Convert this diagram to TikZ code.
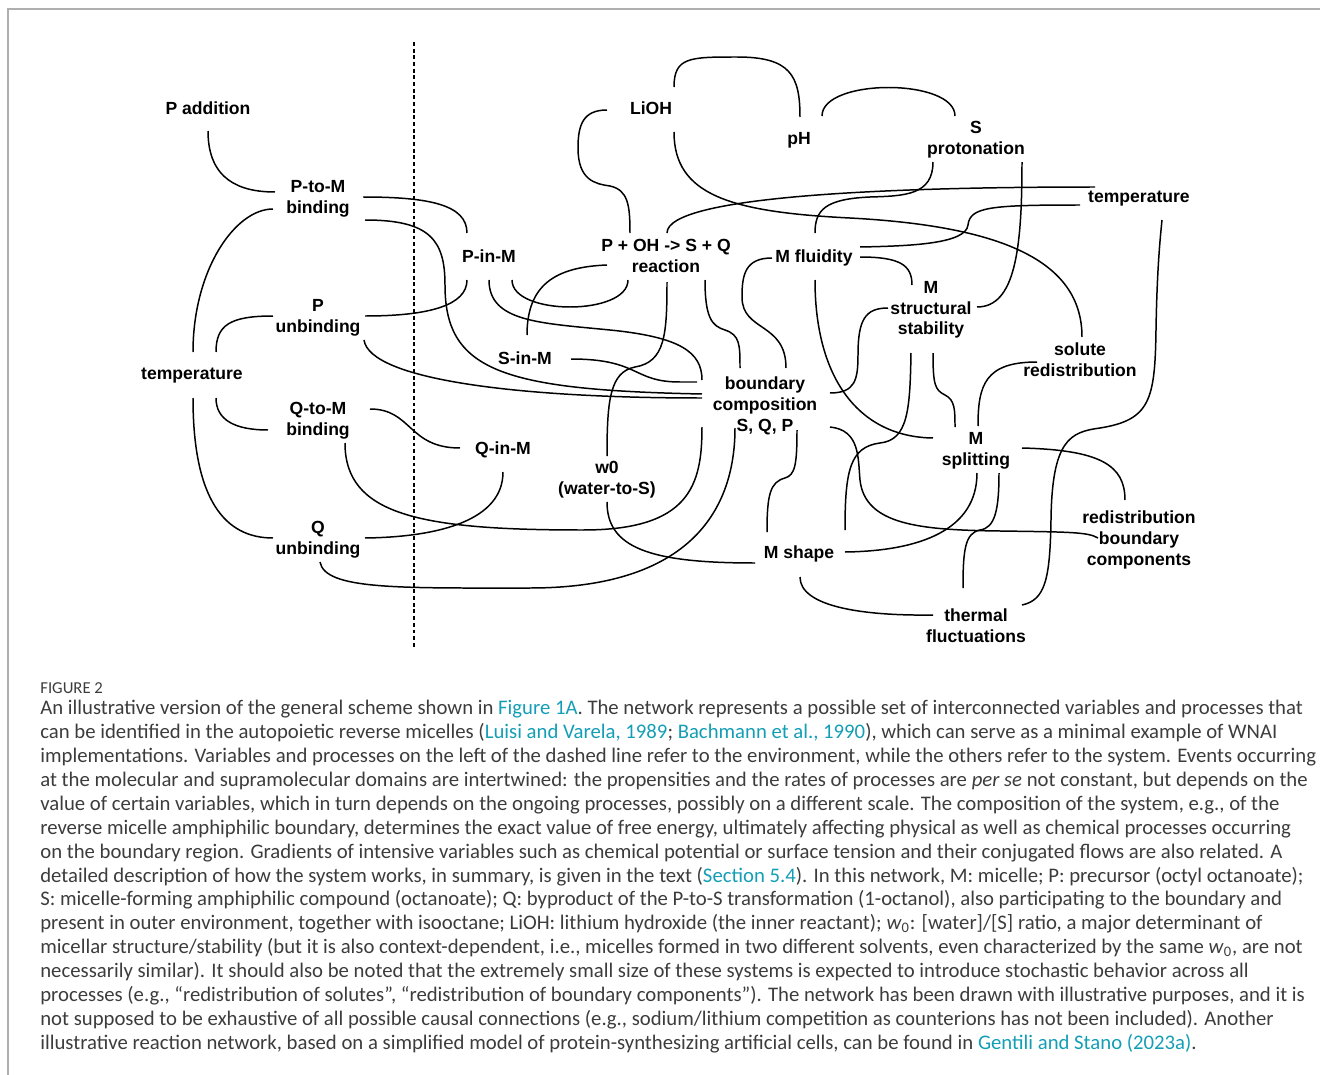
\documentclass[tikz,border=0pt]{standalone}
\usepackage{fontspec}
\setmainfont{Carlito}
\newfontfamily\lblfont{Liberation Sans}
\definecolor{capgray}{RGB}{60,60,60}
\definecolor{linkteal}{RGB}{20,158,182}
\definecolor{framegray}{RGB}{175,175,175}
\tikzset{
    lbl/.style={font=\lblfont\bfseries\fontsize{10}{11.9}\selectfont, align=center, inner sep=0pt, text depth=0pt},
    link/.style={line width=0.85pt},
}
\begin{document}
\begin{tikzpicture}[x=0.02cm, y=-0.02cm]
            \useasboundingbox (0,0) rectangle (1320,1075);
            \draw[framegray, line width=1pt] (8,1075) -- (8,9) -- (1320,9);
            \draw[line width=0.85pt, dash pattern=on 2.2pt off 1.6pt] (414,42) -- (414,648);
            \foreach \n/\x/\y/\t in {padd/208/108/{P addition}, ptom/318/197/{P-to-M\\binding},
                punb/318/316/{P\\unbinding}, tleft/192/374/{temperature}, qtom/318/419/{Q-to-M\\binding},
                qunb/318/538/{Q\\unbinding}, pinm/489/256/{P-in-M}, sinm/525/358/{S-in-M},
                qinm/503/448/{Q-in-M}, lioh/651/108/{LiOH}, ph/799/138/{pH},
                sprot/976/138/{S\\protonation}, tright/1139/197/{temperature},
                reac/666/256/{P + OH -> S + Q\\reaction}, mflu/814/256/{M fluidity},
                mstr/931/308/{M\\structural\\stability}, bcomp/765/404/{boundary\\composition\\S, Q, P},
                wzero/607/478/{w0\\(water-to-S)}, solr/1080/360/{solute\\redistribution},
                msplit/976/449/{M\\splitting}, mshape/799/552/{M shape},
                rbc/1139/538/{redistribution\\boundary\\components}, therm/976/626/{thermal\\fluctuations}}
            {
                \node[lbl] (\n) at (\x,\y) {\t};
            }
            \draw[link] ([shift={(0,23)}]padd.center) .. controls (208,180) and (240,192) .. ([shift={(-43,-5)}]ptom.center);
            \draw[link] ([shift={(1,-22)}]tleft.center) .. controls (193,270) and (235,209) .. ([shift={(-45,12)}]ptom.center);
            \draw[link] ([shift={(24,-22)}]tleft.center) .. controls (216,325) and (230,316) .. ([shift={(-45,0)}]punb.center);
            \draw[link] ([shift={(24,24)}]tleft.center) .. controls (216,420) and (235,430) .. ([shift={(-50,11)}]qtom.center);
            \draw[link] ([shift={(1,24)}]tleft.center) .. controls (193,500) and (225,538) .. ([shift={(-45,0)}]qunb.center);
            \draw[link] ([shift={(45,0)}]ptom.center) .. controls (430,197) and (467,205) .. ([shift={(-22,-23)}]pinm.center);
            \draw[link] ([shift={(47,23)}]ptom.center) .. controls (430,220) and (445,240) .. (445,285)
                .. controls (445,370) and (500,390) .. ([shift={(-63,-10)}]bcomp.center);
            \draw[link] ([shift={(47,0)}]punb.center) .. controls (430,316) and (467,305) .. ([shift={(-22,24)}]pinm.center);
            \draw[link] ([shift={(46,24)}]punb.center) .. controls (370,380) and (520,398) .. ([shift={(-63,-6)}]bcomp.center);
            \draw[link] ([shift={(52,-10)}]qtom.center) .. controls (412,409) and (408,448) .. ([shift={(-43,0)}]qinm.center);
            \draw[link] ([shift={(27,24)}]qtom.center) .. controls (345,515) and (420,530) .. (583,530)
                .. controls (690,530) and (702,485) .. ([shift={(-63,23)}]bcomp.center);
            \draw[link] ([shift={(47,0)}]qunb.center) .. controls (440,537) and (503,520) .. ([shift={(0,24)}]qinm.center);
            \draw[link] ([shift={(2,24)}]qunb.center) .. controls (325,590) and (400,588) .. (530,588)
                .. controls (700,588) and (735,500) .. ([shift={(-30,24)}]bcomp.center);
            \draw[link] ([shift={(-44,2)}]lioh.center) .. controls (583,110) and (578,125) .. (578,148)
                .. controls (578,180) and (595,184) .. (610,186) .. controls (628,190) and (630,205) .. ([shift={(-36,-23)}]reac.center);
            \draw[link] ([shift={(23,-21)}]lioh.center) .. controls (674,57) and (690,57) .. (737,57)
                .. controls (790,57) and (800,75) .. ([shift={(1,-21)}]ph.center);
            \draw[link] ([shift={(23,24)}]lioh.center) .. controls (674,195) and (730,212) .. (850,218)
                .. controls (1000,226) and (1082,260) .. ([shift={(2,-23)}]solr.center);
            \draw[link] ([shift={(23,-22)}]ph.center) .. controls (822,78) and (955,78) .. ([shift={(-21,-22)}]sprot.center);
            \draw[link] ([shift={(-43,24)}]sprot.center) .. controls (933,195) and (905,196) .. (870,197)
                .. controls (825,199) and (815,210) .. ([shift={(1,-23)}]mflu.center);
            \draw[link] ([shift={(46,24)}]sprot.center) .. controls (1022,250) and (1015,307) .. ([shift={(46,-1)}]mstr.center);
            \draw[link] ([shift={(-44,-10)}]tright.center) .. controls (900,187) and (667,195) .. ([shift={(1,-23)}]reac.center);
            \draw[link] ([shift={(-59,8)}]tright.center) .. controls (990,205) and (970,207) .. (968,225)
                .. controls (966,244) and (910,246) .. ([shift={(46,-9)}]mflu.center);
            \draw[link] ([shift={(46,1)}]mflu.center) .. controls (900,257) and (912,265) .. ([shift={(-19,-23)}]mstr.center);
            \draw[link] ([shift={(-42,2)}]mflu.center) .. controls (745,258) and (742,275) .. (742,297)
                .. controls (742,332) and (786,322) .. ([shift={(21,-36)}]bcomp.center);
            \draw[link] ([shift={(39,24)}]reac.center) .. controls (705,318) and (712,326) .. (725,330)
                .. controls (740,335) and (740,345) .. ([shift={(-25,-36)}]bcomp.center);
            \draw[link] ([shift={(1,26)}]reac.center) .. controls (667,335) and (665,362) .. (635,367)
                .. controls (610,372) and (607,400) .. ([shift={(0,-22)}]wzero.center);
            \draw[link] ([shift={(-59,9)}]reac.center) .. controls (555,267) and (527,285) .. ([shift={(2,-23)}]sinm.center);
            \draw[link] ([shift={(-38,24)}]reac.center) .. controls (628,316) and (512,316) .. ([shift={(23,24)}]pinm.center);
            \draw[link] ([shift={(0,24)}]pinm.center) .. controls (489,322) and (540,323) .. (610,330)
                .. controls (680,337) and (702,352) .. ([shift={(-63,-24)}]bcomp.center);
            \draw[link] ([shift={(46,1)}]sinm.center) .. controls (640,359) and (632,382) .. (680,382) -- ([shift={(-68,-22)}]bcomp.center);
            \draw[link] ([shift={(65,-11)}]bcomp.center) .. controls (855,393) and (858,380) .. (858,355)
                .. controls (858,320) and (865,308) .. ([shift={(-43,0)}]mstr.center);
            \draw[link] ([shift={(65,23)}]bcomp.center) .. controls (860,430) and (858,458) .. (860,480)
                .. controls (865,525) and (920,530) .. (1000,531) .. controls (1070,532) and (1088,532) .. ([shift={(-41,0)}]rbc.center);
            \draw[link] ([shift={(32,26)}]bcomp.center) .. controls (797,465) and (795,475) .. (785,478)
                .. controls (770,482) and (767,495) .. ([shift={(-32,-20)}]mshape.center);
            \draw[link] ([shift={(0,24)}]wzero.center) .. controls (607,548) and (650,563) .. ([shift={(-44,11)}]mshape.center);
            \draw[link] ([shift={(-20,45)}]mstr.center) .. controls (910,410) and (908,440) .. (880,443)
                .. controls (850,447) and (845,470) .. ([shift={(46,-22)}]mshape.center);
            \draw[link] ([shift={(2,45)}]mstr.center) .. controls (933,385) and (935,390) .. (945,395)
                .. controls (955,400) and (955,410) .. ([shift={(-21,-22)}]msplit.center);
            \draw[link] ([shift={(1,24)}]mflu.center) .. controls (815,380) and (860,437) .. ([shift={(-43,-11)}]msplit.center);
            \draw[link] ([shift={(-43,2)}]solr.center) .. controls (985,362) and (978,385) .. ([shift={(2,-23)}]msplit.center);
            \draw[link] ([shift={(46,-1)}]msplit.center) .. controls (1100,450) and (1125,465) .. ([shift={(-14,-38)}]rbc.center);
            \draw[link] ([shift={(1,24)}]msplit.center) .. controls (977,530) and (920,551) .. ([shift={(46,0)}]mshape.center);
            \draw[link] ([shift={(23,24)}]msplit.center) .. controls (999,510) and (995,528) .. (980,530)
                .. controls (965,533) and (963,550) .. ([shift={(-13,-38)}]therm.center);
            \draw[link] ([shift={(-43,-11)}]therm.center) .. controls (860,616) and (800,606) .. ([shift={(1,25)}]mshape.center);
            \draw[link] ([shift={(46,-21)}]therm.center) .. controls (1045,600) and (1050,580) .. (1051,520)
                .. controls (1052,440) and (1070,432) .. (1100,428) .. controls (1150,420) and (1155,400) .. (1156,330)
                .. controls (1157,270) and (1160,240) .. ([shift={(23,23)}]tright.center);
            \node[anchor=west, inner sep=0pt, text=capgray, font=\fontsize{9.5}{10}\selectfont] (fig) at (40,688) {FIGURE 2};
            \node[anchor=north west, inner sep=0pt, align=left, text=capgray, font=\fontsize{11.8}{13.6}\selectfont] (cap) at (40,700)
            {An illustrative version of the general scheme shown in \textcolor{linkteal}{Figure 1A}. The network represents a possible set of interconnected variables and processes that\\
            can be identified in the autopoietic reverse micelles (\textcolor{linkteal}{Luisi and Varela, 1989}; \textcolor{linkteal}{Bachmann et al., 1990}), which can serve as a minimal example of WNAI\\
            implementations. Variables and processes on the left of the dashed line refer to the environment, while the others refer to the system. Events occurring\\
            at the molecular and supramolecular domains are intertwined: the propensities and the rates of processes are \textit{per se} not constant, but depends on the\\
            value of certain variables, which in turn depends on the ongoing processes, possibly on a different scale. The composition of the system, e.g., of the\\
            reverse micelle amphiphilic boundary, determines the exact value of free energy, ultimately affecting physical as well as chemical processes occurring\\
            on the boundary region. Gradients of intensive variables such as chemical potential or surface tension and their conjugated flows are also related. A\\
            detailed description of how the system works, in summary, is given in the text (\textcolor{linkteal}{Section 5.4}). In this network, M: micelle; P: precursor (octyl octanoate);\\
            S: micelle-forming amphiphilic compound (octanoate); Q: byproduct of the P-to-S transformation (1-octanol), also participating to the boundary and\\
            present in outer environment, together with isooctane; LiOH: lithium hydroxide (the inner reactant); \textit{w}\textsubscript{0}: [water]/[S] ratio, a major determinant of\\
            micellar structure/stability (but it is also context-dependent, i.e., micelles formed in two different solvents, even characterized by the same \textit{w}\textsubscript{0}, are not\\
            necessarily similar). It should also be noted that the extremely small size of these systems is expected to introduce stochastic behavior across all\\
            processes (e.g., “redistribution of solutes”, “redistribution of boundary components”). The network has been drawn with illustrative purposes, and it is\\
            not supposed to be exhaustive of all possible causal connections (e.g., sodium/lithium competition as counterions has not been included). Another\\
            illustrative reaction network, based on a simplified model of protein-synthesizing artificial cells, can be found in \textcolor{linkteal}{Gentili and Stano (2023a)}.};
        \end{tikzpicture}
\end{document}
